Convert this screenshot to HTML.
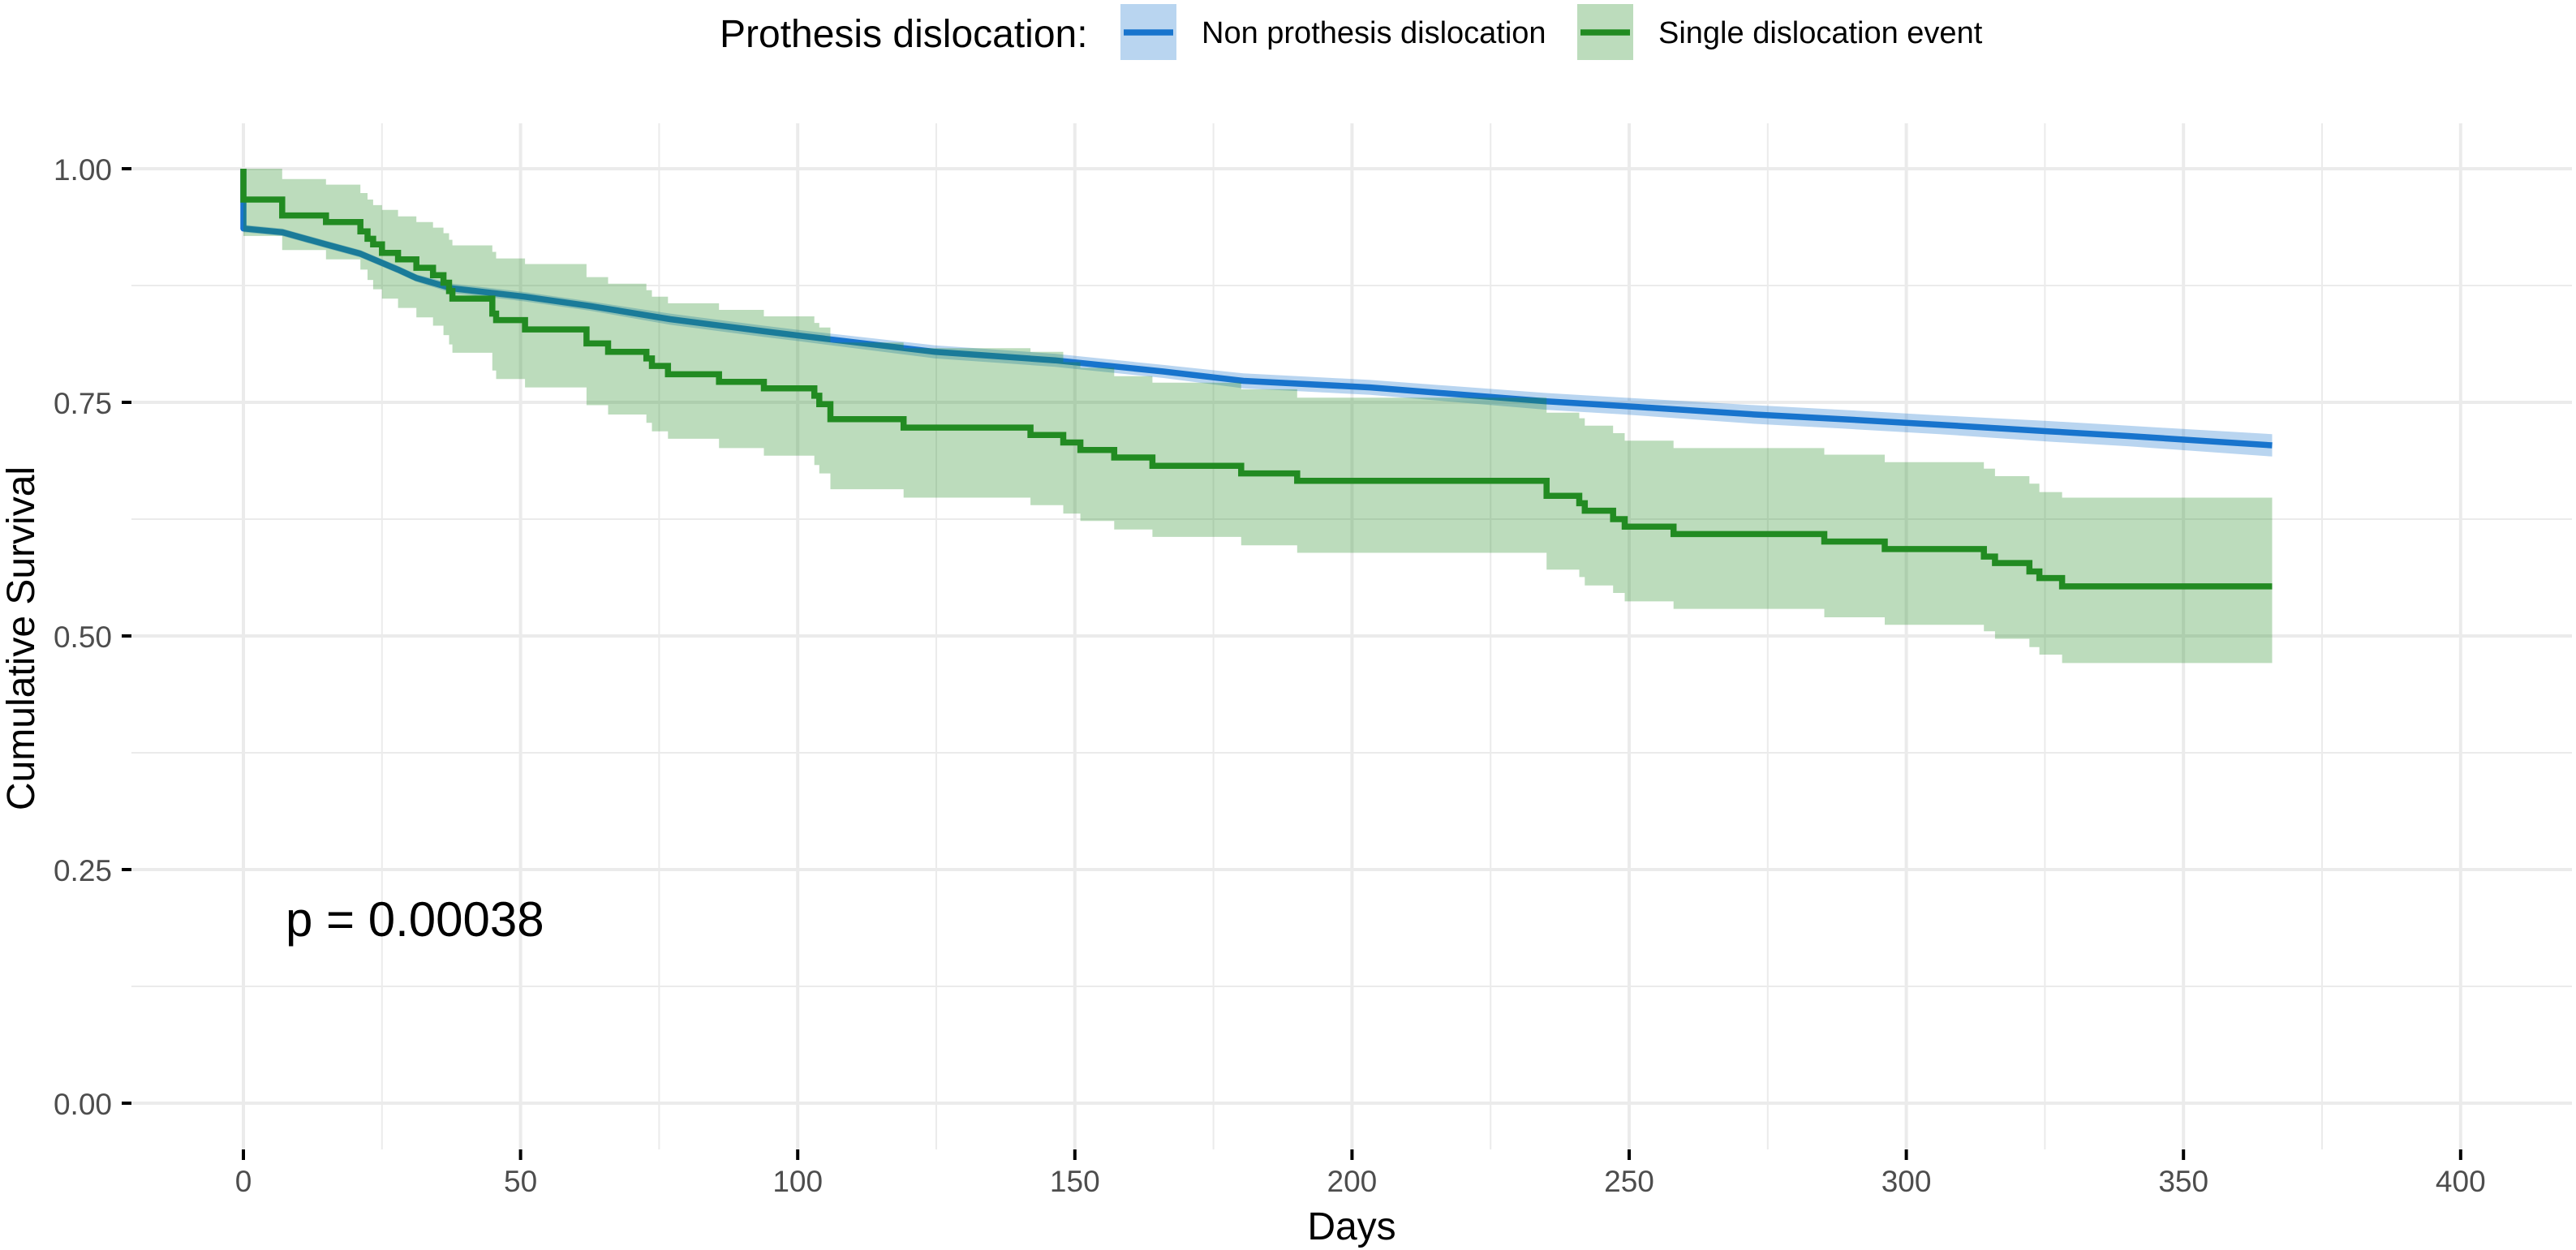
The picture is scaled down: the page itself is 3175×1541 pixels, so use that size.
<!DOCTYPE html>
<html><head><meta charset="utf-8">
<style>
html,body{margin:0;padding:0;background:#fff;}
svg{display:block;font-family:"Liberation Sans",Arial,sans-serif;}
</style></head>
<body>
<svg id="chart" width="3175" height="1541" viewBox="0 0 3175 1541" xmlns="http://www.w3.org/2000/svg">
  <g id="grid"></g>
  <g id="series"></g>
  <g id="axes"></g>
  <text x="352" y="1154" font-size="60" fill="#000">p = 0.00038</text>
  <text x="1666" y="1528" font-size="48" text-anchor="middle" fill="#000">Days</text>
  <text transform="translate(42,787) rotate(-90)" font-size="48" text-anchor="middle" fill="#000">Cumulative Survival</text>
  <g>
    <text x="887" y="58" font-size="48" fill="#000">Prothesis dislocation:</text>
    <g>
      <rect x="1381" y="5" width="69" height="69" fill="#1874CD" fill-opacity="0.3"/>
      <line x1="1385" y1="40" x2="1446" y2="40" stroke="#1874CD" stroke-width="7.5"/>
      <text x="1481" y="53" font-size="38" fill="#000">Non prothesis dislocation</text>
    </g>
    <g>
      <rect x="1944" y="5" width="69" height="69" fill="#228B22" fill-opacity="0.3"/>
      <line x1="1948" y1="40" x2="2009" y2="40" stroke="#228B22" stroke-width="7.5"/>
      <text x="2044" y="53" font-size="38" fill="#000">Single dislocation event</text>
    </g>
  </g>
</svg>
<script>
// ---- data ----
const xTicks = [0, 50, 100, 150, 200, 250, 300, 350, 400];
const yTicks = [0, 0.25, 0.5, 0.75, 1.0];
const yTickLabels = ["0.00", "0.25", "0.50", "0.75", "1.00"];

const greenTime = [0, 0, 7.0, 14.9, 21.1, 22.4, 23.4, 25.0, 27.9, 31.2, 34.2, 36.1, 37.1, 37.7, 44.9, 45.6, 50.8, 61.9, 65.8, 72.7, 73.7, 76.6, 85.8, 93.9, 103.0, 103.9, 105.9, 119.1, 142.0, 147.9, 151.0, 157.1, 164.0, 180.0, 190.1, 235.1, 241.0, 242.0, 247.1, 249.2, 258.0, 285.2, 296.1, 314.0, 316.0, 322.2, 324.0, 328.1];
const greenSurv = [1.0, .967, .950, .943, .933, .925, .919, .910, .903, .894, .886, .878, .869, .861, .845, .838, .828, .813, .804, .797, .789, .780, .772, .765, .757, .748, .732, .723, .715, .707, .699, .691, .682, .674, .666, .650, .642, .634, .625, .617, .609, .601, .593, .585, .578, .569, .562, .553];
const greenUpper = [1.0, 1.0, .989, .983, .974, .967, .961, .956, .949, .943, .937, .931, .924, .918, .911, .904, .898, .884, .877, .870, .863, .856, .849, .842, .835, .830, .814, .808, .804, .793, .787, .778, .771, .764, .755, .739, .733, .725, .717, .709, .701, .694, .686, .679, .671, .663, .654, .648];
const greenLower = [1.0, .928, .913, .903, .892, .881, .871, .861, .851, .841, .832, .822, .812, .803, .784, .775, .766, .747, .737, .728, .719, .711, .701, .693, .683, .674, .657, .648, .640, .631, .623, .614, .606, .597, .589, .571, .563, .554, .546, .537, .529, .520, .512, .505, .497, .488, .480, .471];
const greenEnd = 366;

const blueTime = [0, 0, 7.0, 14.9, 21.1, 27.9, 31.2, 37.7, 50.8, 62.6, 77.0, 93.9, 100.8, 124.8, 146.4, 166.0, 180.4, 203.3, 235.1, 249.2, 272.7, 288.4, 306.0, 325.6, 340.0, 366.0];
const blueSurv = [1.0, .936, .932, .919, .909, .892, .883, .872, .863, .853, .839, .826, .821, .804, .795, .783, .773, .766, .751, .746, .737, .732, .726, .719, .714, .704];
const blueUpper = [1.0, .940, .936, .923, .913, .896, .887, .877, .868, .858, .845, .832, .827, .811, .802, .790, .781, .774, .760, .755, .747, .742, .736, .730, .725, .716];
const blueLower = [1.0, .932, .928, .915, .905, .888, .879, .867, .858, .848, .833, .820, .815, .797, .788, .776, .765, .758, .742, .737, .727, .722, .716, .708, .703, .692];

// ---- scales ----
const X = d => 300 + d * 6.832;
const Y = s => 1360 - s * 1152;
const NS = "http://www.w3.org/2000/svg";
function mk(tag, attrs, parent) {
  const el = document.createElementNS(NS, tag);
  for (const k in attrs) el.setAttribute(k, attrs[k]);
  parent.appendChild(el);
  return el;
}
const grid = document.getElementById('grid');
const series = document.getElementById('series');
const axes = document.getElementById('axes');
const PL = 162, PR = 3170, PT = 152, PB = 1417;

for (let i = 0; i < xTicks.length - 1; i++) {
  const d = (xTicks[i] + xTicks[i + 1]) / 2;
  const l = mk('line', {x1: X(d), x2: X(d), y1: PT, y2: PB, stroke: '#EBEBEB', 'stroke-width': 2}, grid);
  
  
}
for (let i = 0; i < yTicks.length - 1; i++) {
  const s = (yTicks[i] + yTicks[i + 1]) / 2;
  const l = mk('line', {x1: PL, x2: PR, y1: Y(s), y2: Y(s), stroke: '#EBEBEB', 'stroke-width': 2}, grid);
  
  
}
xTicks.forEach(d => {
  const l = mk('line', {x1: X(d), x2: X(d), y1: PT, y2: PB, stroke: '#EBEBEB', 'stroke-width': 4}, grid);
  
  
  const t = mk('line', {x1: X(d), x2: X(d), y1: PB, y2: PB + 13, stroke: '#000', 'stroke-width': 4}, axes);
  
  
  const tx = mk('text', {x: X(d), y: 1469, 'font-size': 37, 'text-anchor': 'middle', fill: '#4D4D4D'}, axes);
  tx.textContent = String(d);
  
  
});
yTicks.forEach((s, i) => {
  const l = mk('line', {x1: PL, x2: PR, y1: Y(s), y2: Y(s), stroke: '#EBEBEB', 'stroke-width': 4}, grid);
  
  
  const t = mk('line', {x1: 150, x2: PL, y1: Y(s), y2: Y(s), stroke: '#000', 'stroke-width': 4}, axes);
  
  
  const tx = mk('text', {x: 138, y: Y(s) + 14, 'font-size': 37, 'text-anchor': 'end', fill: '#4D4D4D'}, axes);
  tx.textContent = yTickLabels[i];
  
  
});

function stepRibbon(t, up, lo, end) {
  let top = [], bot = [];
  for (let i = 0; i < t.length; i++) {
    const tn = i + 1 < t.length ? t[i + 1] : end;
    top.push([X(t[i]), Y(up[i])], [X(tn), Y(up[i])]);
    bot.push([X(t[i]), Y(lo[i])], [X(tn), Y(lo[i])]);
  }
  const pts = top.concat(bot.reverse());
  return 'M' + pts.map(p => p[0].toFixed(1) + ',' + p[1].toFixed(1)).join('L') + 'Z';
}
function stepLine(t, s, end) {
  let p = 'M' + X(t[0]).toFixed(1) + ',' + Y(s[0]).toFixed(1);
  for (let i = 1; i < t.length; i++) {
    p += 'H' + X(t[i]).toFixed(1) + 'V' + Y(s[i]).toFixed(1);
  }
  p += 'H' + X(end).toFixed(1);
  return p;
}
function linRibbon(t, up, lo) {
  const top = t.map((d, i) => [X(d), Y(up[i])]);
  const bot = t.map((d, i) => [X(d), Y(lo[i])]).reverse();
  return 'M' + top.concat(bot).map(p => p[0].toFixed(1) + ',' + p[1].toFixed(1)).join('L') + 'Z';
}
function linLine(t, s) {
  return 'M' + t.map((d, i) => X(d).toFixed(1) + ',' + Y(s[i]).toFixed(1)).join('L');
}

const br = mk('path', {d: linRibbon(blueTime, blueUpper, blueLower), fill: '#1874CD', 'fill-opacity': 0.3}, series);


const bl = mk('path', {d: linLine(blueTime, blueSurv), fill: 'none', stroke: '#1874CD', 'stroke-width': 7.5, 'stroke-linejoin': 'round'}, series);


const gr = mk('path', {d: stepRibbon(greenTime, greenUpper, greenLower, greenEnd), fill: '#228B22', 'fill-opacity': 0.3}, series);


const gl = mk('path', {d: stepLine(greenTime, greenSurv, greenEnd), fill: 'none', stroke: '#228B22', 'stroke-width': 7.5}, series);


</script>
</body></html>
